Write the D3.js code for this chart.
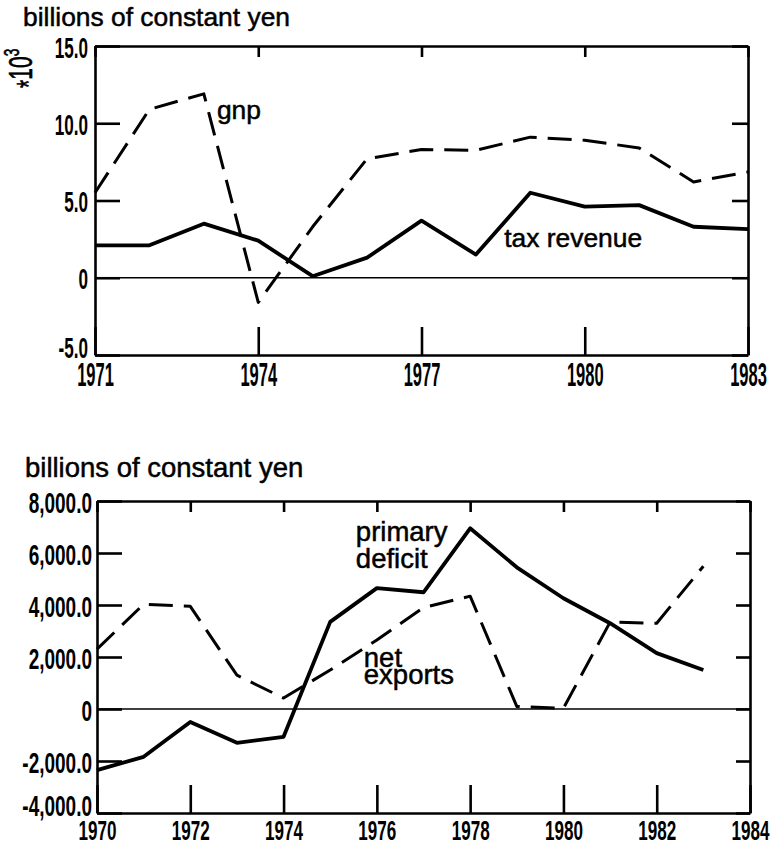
<!DOCTYPE html>
<html>
<head>
<meta charset="utf-8">
<script src="https://cdnjs.cloudflare.com/ajax/libs/d3/7.8.5/d3.min.js"></script>
<style>
  body { margin: 0; background: #fff; }
  text { font-family: "Liberation Sans", Arial, sans-serif; fill: #000; }
</style>
</head>
<body>
<div id="chart"></div>
<script>
// top panel: gnp and tax revenue, *10^3 billions of constant yen
var topYears = [1971, 1972, 1973, 1974, 1975, 1976, 1977, 1978, 1979, 1980, 1981, 1982, 1983];
var gnp = [5.5, 10.9, 11.9, -1.6, 3.3, 7.7, 8.3, 8.25, 9.1, 8.9, 8.4, 6.2, 6.85];
var taxRevenue = [2.1, 2.1, 3.5, 2.4, 0.1, 1.3, 3.7, 1.5, 5.5, 4.6, 4.7, 3.3, 3.15];
var topXTicks = [1971, 1974, 1977, 1980, 1983];
var topYTicks = [-5, 0, 5, 10, 15];

// bottom panel: primary deficit and net exports, billions of constant yen
var bottomYears = [1970, 1971, 1972, 1973, 1974, 1975, 1976, 1977, 1978, 1979, 1980, 1981, 1982, 1983];
var primaryDeficit = [-2350, -1840, -500, -1300, -1070, 3350, 4650, 4490, 6950, 5450, 4260, 3300, 2150, 1500];
var netExports = [2300, 4030, 3950, 1300, 420, 1500, 2650, 3900, 4340, 100, 30, 3340, 3300, 5490];
var bottomXTicks = [1970, 1972, 1974, 1976, 1978, 1980, 1982, 1984];
var bottomYTicks = [-4000, -2000, 0, 2000, 4000, 6000, 8000];

var loc = d3.formatLocale({decimal: ".", thousands: ",", grouping: [3], currency: ["", ""], minus: "-"});
var fmtTop = function(d) { return d === 0 ? "0" : loc.format(".1f")(d); };
var fmtBottom = function(d) { return d === 0 ? "0" : loc.format(",.1f")(d); };

var svg = d3.select("#chart").append("svg")
    .attr("width", 773)
    .attr("height", 847);

var x1 = d3.scaleLinear().domain([1971, 1983]).range([95, 748]);
var y1 = d3.scaleLinear().domain([-5, 15]).range([355, 46]);
var x2 = d3.scaleLinear().domain([1970, 1984]).range([97, 750]);
var y2 = d3.scaleLinear().domain([-4000, 8000]).range([813, 501]);

// condensed look of the tick digits
function squeeze(sel, size, s, xPos) {
    var t = sel.selectAll("text")
        .attr("font-size", size)
        .attr("font-weight", "bold")
        .attr("font-family", null)
        .attr("transform", "scale(" + s + ",1)");
    if (xPos !== undefined) {
        t.attr("x", xPos / s)
         .attr("dy", function(d, i) { return i === 0 ? "0.08em" : "0.38em"; });
    }
}

function frame(x, y, xTicks, yTicks, yFmt, o) {
    var x0 = x.range()[0], xe = x.range()[1];
    var yb = y.range()[0], yt = y.range()[1];

    var gb = svg.append("g").attr("transform", "translate(0," + yb + ")")
        .call(d3.axisBottom(x).tickValues(xTicks).tickSizeInner(-o.bottomTick).tickSizeOuter(0)
            .tickPadding(o.xPad).tickFormat(d3.format("d")));
    squeeze(gb, o.xSize, o.xs);

    svg.append("g").attr("transform", "translate(0," + yt + ")")
        .call(d3.axisTop(x).tickValues(xTicks).tickSizeInner(-o.topTick).tickSizeOuter(0).tickFormat(""));

    var gl = svg.append("g").attr("transform", "translate(" + x0 + ",0)")
        .call(d3.axisLeft(y).tickValues(yTicks).tickSizeInner(-o.leftTick).tickSizeOuter(0)
            .tickPadding(o.yPad).tickFormat(yFmt));
    squeeze(gl, 29, o.ys, -o.yPad);

    svg.append("g").attr("transform", "translate(" + xe + ",0)")
        .call(d3.axisRight(y).tickValues(yTicks).tickSizeInner(-o.rightTick).tickSizeOuter(0).tickFormat(""));

    svg.selectAll(".domain, .tick line").attr("stroke", "#000").attr("stroke-width", 2.6);

    svg.append("line")
        .attr("x1", x0).attr("x2", xe)
        .attr("y1", y(0)).attr("y2", y(0))
        .attr("stroke", "#000").attr("stroke-width", 1.5);
}

function series(x, y, years, vals, dashed) {
    var line = d3.line()
        .x(function(d, i) { return x(years[i]); })
        .y(function(d) { return y(d); });
    svg.append("path")
        .datum(vals)
        .attr("d", line)
        .attr("fill", "none")
        .attr("stroke", "#000")
        .attr("stroke-width", dashed ? 3 : 3.8)
        .attr("stroke-linejoin", "round")
        .attr("stroke-dasharray", dashed ? "24,11" : null);
}

function label(x, y, txt, size) {
    svg.append("text").attr("x", x).attr("y", y)
        .attr("font-size", size)
        .attr("stroke", "#000").attr("stroke-width", 0.5)
        .text(txt);
}

// top panel
frame(x1, y1, topXTicks, topYTicks, fmtTop,
    {bottomTick: 28, topTick: 11, leftTick: 25, rightTick: 16, xPad: 8, yPad: 7, xSize: 33, xs: 0.5, ys: 0.59});
series(x1, y1, topYears, gnp, true);
series(x1, y1, topYears, taxRevenue, false);
label(23, 26, "billions of constant yen", 26.4);
label(x1(1973.24), y1(10.27), "gnp", 26.4);
label(x1(1978.52), y1(1.99), "tax revenue", 26.4);

var mult = svg.append("text")
    .attr("transform", "translate(32,88) rotate(-90) scale(0.62,1)")
    .attr("font-size", 34)
    .attr("stroke", "#000").attr("stroke-width", 0.6);
mult.append("tspan").attr("dy", 8).text("*");
mult.append("tspan").attr("dy", -8).text("10");
mult.append("tspan").attr("font-size", 22).attr("dy", -13).text("3");

// bottom panel
frame(x2, y2, bottomXTicks, bottomYTicks, fmtBottom,
    {bottomTick: 28, topTick: 11, leftTick: 25, rightTick: 14, xPad: 7, yPad: 5, xSize: 28, xs: 0.61, ys: 0.655});
series(x2, y2, bottomYears, netExports, true);
series(x2, y2, bottomYears, primaryDeficit, false);
label(25, 477, "billions of constant yen", 27.5);
label(x2(1975.55), y2(6460), "primary", 27.5);
label(x2(1975.55), y2(5420), "deficit", 27.5);
label(x2(1975.72), y2(1615), "net", 27.5);
label(x2(1975.72), y2(960), "exports", 27.5);
</script>
</body>
</html>
